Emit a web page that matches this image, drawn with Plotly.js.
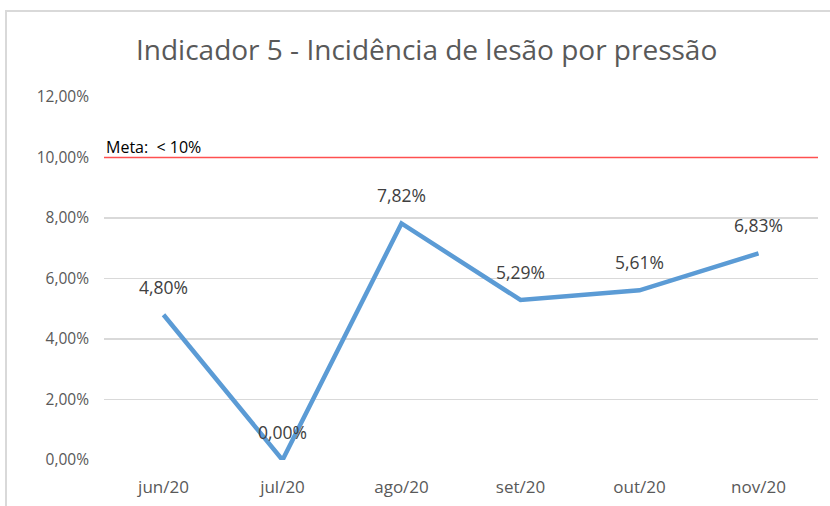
<!DOCTYPE html>
<html>
<head>
<meta charset="utf-8">
<script src="https://cdn.plot.ly/plotly-3.0.1.min.js"></script>
<style>
  html, body { margin: 0; padding: 0; background: #fff; }
  #wrap { position: relative; width: 830px; height: 506px; overflow: hidden; }
  #frame { position: absolute; left: 5px; top: 10px; width: 900px; height: 600px;
           border-top: 2px solid #d9d9d9; border-left: 2px solid #d9d9d9; pointer-events: none; z-index: 5; }
  #chart { position: absolute; left: 0; top: 0; width: 830px; height: 506px; }
</style>
</head>
<body>
<div id="wrap">
  <div id="chart"></div>
  <div id="frame"></div>
</div>
<script>
const months = ["jun/20", "jul/20", "ago/20", "set/20", "out/20", "nov/20"];
const incidence = [0.0480, 0.0000, 0.0782, 0.0529, 0.0561, 0.0683];
const goal = 0.10;
const goalLabel = "Meta:  < 10%";
const yTicks = [0, 0.02, 0.04, 0.06, 0.08, 0.10, 0.12];

const font = "'Open Sans', 'Noto Sans', sans-serif";

const trace = {
  x: months,
  y: incidence,
  type: "scatter",
  mode: "lines",
  line: { color: "#5b9bd5", width: 4.5 },
  hoverinfo: "skip"
};

const labels = months.map((m, i) => ({
  x: m, y: incidence[i], xref: "x", yref: "y",
  text: (incidence[i] * 100).toFixed(2).replace(".", ",") + "%",
  showarrow: false, yshift: 28,
  font: { family: font, size: 17.5, color: "#404040" }
}));

labels.push({
  x: 0, xref: "paper", y: goal, yref: "y",
  xanchor: "left", yanchor: "bottom", yshift: -2,
  text: goalLabel, showarrow: false,
  font: { family: font, size: 16, color: "#000000" }
});

const layout = {
  width: 830, height: 506,
  margin: { l: 104, r: 12, t: 97, b: 46 },
  paper_bgcolor: "#ffffff", plot_bgcolor: "#ffffff",
  separators: ",.",
  showlegend: false,
  title: {
    text: "Indicador 5 - Incidência de lesão por pressão",
    font: { family: font, size: 28, color: "#595959" },
    x: 0.514, xref: "container", xanchor: "center",
    y: 0.90, yref: "container", yanchor: "middle"
  },
  xaxis: {
    type: "category",
    range: [-0.5, 5.5],
    showgrid: false, zeroline: false, showline: false,
    ticks: "", ticklabelstandoff: 15,
    tickfont: { family: font, size: 17, color: "#595959" }
  },
  yaxis: {
    range: [0, 0.12],
    tickvals: yTicks,
    tickformat: ".2%",
    showgrid: true, gridcolor: "#d9d9d9", gridwidth: 1.5,
    zeroline: false, showline: false,
    ticks: "", ticklabelstandoff: 14,
    tickfont: { family: font, size: 15.5, color: "#595959" }
  },
  shapes: [{
    type: "line", xref: "paper", x0: 0, x1: 1, yref: "y", y0: goal, y1: goal,
    line: { color: "#ff5050", width: 1.5 }
  }],
  annotations: labels
};

Plotly.newPlot("chart", [trace], layout, { staticPlot: true, displayModeBar: false });
</script>
</body>
</html>
